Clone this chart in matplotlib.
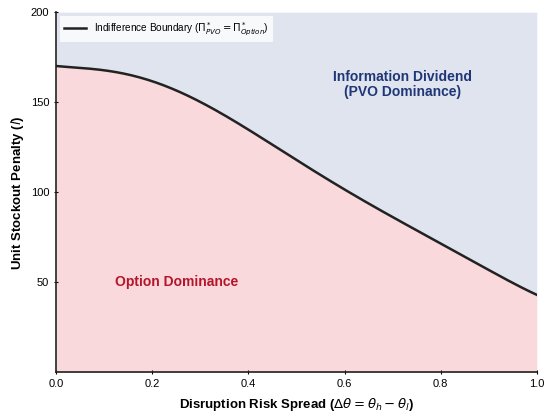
import matplotlib
matplotlib.use("Agg")
import matplotlib.pyplot as plt
import numpy as np

plt.rcParams['font.family'] = ['Liberation Sans', 'DejaVu Sans']
plt.rcParams['mathtext.fontset'] = 'dejavusans'

# boundary (risk spread vs. stockout penalty)
spread = [0.0, 0.05, 0.1, 0.15, 0.2, 0.25, 0.3, 0.35, 0.4, 0.45, 0.5,
          0.55, 0.6, 0.65, 0.7, 0.75, 0.8, 0.85, 0.9, 0.95, 1.0]
penalty = [170.0, 169.4, 167.6, 165.0, 161.6, 156.8, 150.6, 142.8, 134.4,
           126.2, 118.0, 109.8, 101.6, 93.9, 86.4, 78.9, 71.4, 64.1, 57.0,
           49.9, 43.0]

# smooth the read points only for drawing
coef = np.polyfit(spread, penalty, 6)
x = np.linspace(0, 1, 300)
y = np.polyval(coef, x)
ymax = 200

fig = plt.figure(figsize=(5.5, 4.19), dpi=100)
ax = fig.add_axes([0.102, 0.111, 0.874, 0.860])

ax.fill_between(x, y, ymax, color='#dfe4ee', lw=0)
ax.fill_between(x, 0, y, color='#f9d9db', lw=0)
ax.plot(x, y, color='#222222', lw=1.8,
        label=r'Indifference Boundary ($\Pi^*_{PVO} = \Pi^*_{Option}$)')

ax.text(0.72, 160, 'Information Dividend\n(PVO Dominance)', ha='center',
        va='center', color='#1f3677', fontsize=10, fontweight='bold',
        linespacing=1.1)
ax.text(0.25, 50, 'Option Dominance', ha='center', va='center',
        color='#b5152b', fontsize=10, fontweight='bold')

ax.set_xlim(0, 1)
ax.set_ylim(0, ymax)
ax.set_yticks([50, 100, 150, 200])
ax.set_xticks([0.0, 0.2, 0.4, 0.6, 0.8, 1.0])
ax.tick_params(labelsize=8, length=3, width=0.8, direction='inout')

for s in ['top', 'right']:
    ax.spines[s].set_visible(False)
for s in ['left', 'bottom']:
    ax.spines[s].set_color('#222222')
    ax.spines[s].set_linewidth(1.2)

ax.set_xlabel(r'Disruption Risk Spread ($\Delta\theta = \theta_h - \theta_l$)',
              fontsize=9.5, fontweight='bold', labelpad=5)
ax.set_ylabel(r'Unit Stockout Penalty ($l$)', fontsize=9.5,
              fontweight='bold', labelpad=3)

leg = ax.legend(loc='upper left', fontsize=7.2, frameon=True, fancybox=False,
                borderaxespad=0.4, handlelength=2.2)
leg.get_frame().set_edgecolor('none')
leg.get_frame().set_facecolor('white')
leg.get_frame().set_alpha(0.8)

fig.savefig('out.png', dpi=100)
